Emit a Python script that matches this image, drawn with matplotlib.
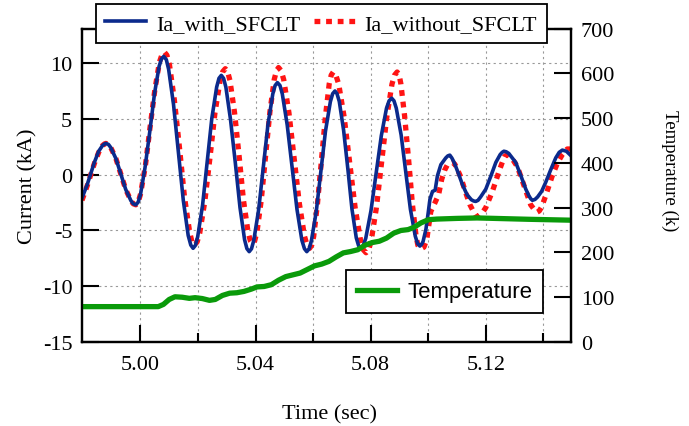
import numpy as np
import matplotlib
matplotlib.use("Agg")
import matplotlib.pyplot as plt
from matplotlib.ticker import MultipleLocator, FixedLocator

plt.rcParams['font.family'] = ['Liberation Serif', 'DejaVu Serif']
plt.rcParams['axes.unicode_minus'] = False

# --- data ---
t_with = [4.9797, 4.9815, 4.9825, 4.9840, 4.9855, 4.9868, 4.9880,
          4.9897, 4.9915, 4.9932, 4.9949, 4.9967, 4.9984,
          5.0000, 5.0016, 5.0033, 5.0049, 5.0065, 5.0081,
          5.0098, 5.0115, 5.0132, 5.0149, 5.0166, 5.0183,
          5.0199, 5.0216, 5.0232, 5.0248, 5.0265, 5.0281,
          5.0297, 5.0313, 5.0330, 5.0346, 5.0362, 5.0378,
          5.0394, 5.0411, 5.0427, 5.0443, 5.0460, 5.0476,
          5.0493, 5.0510, 5.0527, 5.0544, 5.0561, 5.0578,
          5.0594, 5.0611, 5.0627, 5.0643, 5.0660, 5.0676,
          5.0691, 5.0706, 5.0721, 5.0735, 5.0750, 5.0765,
          5.0783, 5.0801, 5.0819, 5.0837, 5.0855, 5.0873,
          5.0889, 5.0906, 5.0922, 5.0938, 5.0955, 5.0971,
          5.0982, 5.0992, 5.1000, 5.1006, 5.1015, 5.1024, 5.1032, 5.1044, 5.1061, 5.1075,
          5.1090, 5.1105, 5.1119, 5.1135, 5.1150, 5.1165,
          5.1182, 5.1200, 5.1218, 5.1235, 5.1250, 5.1263,
          5.1280, 5.1304, 5.1322, 5.1339, 5.1350, 5.1362,
          5.1380, 5.1394, 5.1408, 5.1425, 5.1443, 5.1455, 5.1466, 5.1480, 5.1496]
i_with = [-2.1, -0.9, -0.1, 1.1, 2.1, 2.6, 2.8,
          2.43, 1.43, 0.05, -1.33, -2.33, -2.7,
          -1.81, 0.63, 3.95, 7.28, 9.71, 10.6,
          9.45, 6.3, 2.0, -2.3, -5.45, -6.6,
          -5.56, -2.73, 1.15, 5.03, 7.86, 8.9,
          7.84, 4.95, 1.0, -2.95, -5.84, -6.9,
          -5.88, -3.11, 0.68, 4.46, 7.24, 8.25,
          7.24, 4.46, 0.68, -3.11, -5.88, -6.9,
          -5.94, -3.3, 0.3, 3.9, 6.54, 7.5,
          6.56, 3.98, 0.45, -3.08, -5.66, -6.6,
          -5.7, -3.24, 0.13, 3.49, 5.95, 6.85,
          5.96, 3.54, 0.23, -3.09, -5.51, -6.4,
          -6.0, -4.9, -3.4, -2.2, -1.5, -1.4, -0.1, 0.9, 1.5, 1.75,
          1.1, 0.1, -0.9, -1.8, -2.25, -2.4,
          -2.0, -1.3, -0.1, 1.1, 1.8, 2.1,
          1.9, 1.1, -0.1, -1.3, -1.9, -2.3,
          -2.0, -1.5, -0.7, 0.4, 1.5, 2.0, 2.2, 2.1, 1.7]
# extra readings close to the peaks and troughs
t_with_near = [4.9875, 4.9889, 4.9975, 4.9992, 5.0073, 5.0090, 5.0175, 5.0191,
               5.0273, 5.0289, 5.0370, 5.0386, 5.0468, 5.0485, 5.0570, 5.0586,
               5.0668, 5.0683, 5.0758, 5.0774, 5.0864, 5.0881, 5.0963, 5.0977,
               5.1068, 5.1082, 5.1158, 5.1173, 5.1257, 5.1271, 5.1356, 5.1371]
i_with_near = [2.75, 2.71, -2.61, -2.47, 10.37, 10.31, -6.31, -6.34,
               8.64, 8.63, -6.63, -6.64, 7.99, 7.99, -6.64, -6.66,
               7.26, 7.26, -6.36, -6.37, 6.62, 6.62, -6.17, -6.25,
               1.68, 1.5, -2.36, -2.3, 2.0, 2.05, -2.15, -2.22]

t_without = [4.9797, 4.9815, 4.9825, 4.9840, 4.9855, 4.9868, 4.9880,
             4.9897, 4.9915, 4.9932, 4.9949, 4.9967, 4.9984,
             5.0000, 5.0017, 5.0033, 5.0050, 5.0066, 5.0083,
             5.0101, 5.0118, 5.0136, 5.0153, 5.0171, 5.0188,
             5.0206, 5.0224, 5.0242, 5.0259, 5.0277, 5.0295,
             5.0311, 5.0327, 5.0343, 5.0358, 5.0374, 5.0390,
             5.0405, 5.0420, 5.0435, 5.0450, 5.0465, 5.0480,
             5.0498, 5.0516, 5.0534, 5.0552, 5.0570, 5.0588,
             5.0602, 5.0615, 5.0629, 5.0643, 5.0656, 5.0670,
             5.0689, 5.0708, 5.0727, 5.0746, 5.0765, 5.0784,
             5.0802, 5.0820, 5.0838, 5.0856, 5.0874, 5.0892,
             5.0905, 5.0918, 5.0932, 5.0945, 5.0958, 5.0971,
             5.0985, 5.0995, 5.1009, 5.1022, 5.1036, 5.1047, 5.1057, 5.1067, 5.1084,
             5.1099, 5.1113, 5.1130, 5.1145, 5.1159, 5.1171,
             5.1186, 5.1200, 5.1223, 5.1246, 5.1260, 5.1272,
             5.1290, 5.1310, 5.1333, 5.1356, 5.1379,
             5.1394, 5.1408, 5.1431, 5.1450, 5.1466, 5.1483, 5.1496]
i_without = [-2.3, -1.0, -0.2, 1.0, 2.0, 2.6, 2.8,
             2.43, 1.43, 0.05, -1.33, -2.33, -2.7,
             -1.78, 0.73, 4.15, 7.58, 10.08, 11.0,
             9.84, 6.68, 2.35, -1.98, -5.14, -6.3,
             -5.24, -2.35, 1.6, 5.55, 8.44, 9.5,
             8.45, 5.58, 1.65, -2.28, -5.15, -6.2,
             -5.14, -2.25, 1.7, 5.65, 8.54, 9.6,
             8.51, 5.55, 1.5, -2.55, -5.51, -6.6,
             -5.54, -2.65, 1.3, 5.25, 8.14, 9.2,
             8.11, 5.15, 1.1, -2.95, -5.91, -7.0,
             -5.91, -2.95, 1.1, 5.15, 8.11, 9.2,
             8.14, 5.25, 1.3, -2.65, -5.54, -6.6,
             -6.5, -5.8, -3.3, -2.6, -1.8, -0.4, 0.4, 0.9, 1.1,
             0.6, -0.2, -1.6, -2.7, -3.4, -3.75,
             -3.5, -2.95, -1.5, 0.3, 1.3, 1.75,
             1.5, 0.7, -1.0, -2.7, -3.35,
             -2.9, -1.9, -0.1, 1.1, 1.8, 2.3, 2.3]
t_without_near = [4.9875, 4.9889, 4.9975, 4.9992, 5.0075, 5.0092, 5.0179, 5.0197,
                  5.0286, 5.0303, 5.0382, 5.0397, 5.0473, 5.0489, 5.0579, 5.0595,
                  5.0663, 5.0679, 5.0774, 5.0793, 5.0883, 5.0899, 5.0964, 5.0978,
                  5.1076, 5.1092, 5.1165, 5.1178, 5.1266, 5.1280, 5.1372, 5.1386]
i_without_near = [2.75, 2.71, -2.61, -2.47, 10.77, 10.71, -6.01, -6.03,
                  9.23, 9.23, -5.93, -5.93, 9.33, 9.32, -6.32, -6.33,
                  8.93, 8.92, -6.72, -6.72, 8.92, 8.93, -6.33, -6.6,
                  1.05, 0.95, -3.65, -3.7, 1.65, 1.7, -3.25, -3.25]

t_temp = [4.9797, 5.0062, 5.0080, 5.0100, 5.0120, 5.0145, 5.0170, 5.0190,
          5.0215, 5.0240, 5.0260, 5.0285, 5.0310, 5.0335, 5.0360, 5.0385,
          5.0405, 5.0430, 5.0455, 5.0480, 5.0505, 5.0530, 5.0555, 5.0580,
          5.0605, 5.0630, 5.0655, 5.0680, 5.0705, 5.0730, 5.0755, 5.0780,
          5.0805, 5.0830, 5.0855, 5.0880, 5.0905, 5.0930, 5.0950, 5.0975,
          5.1000, 5.1030, 5.1100, 5.1170, 5.1260, 5.1350, 5.1496]
temp = [79, 79, 84, 95, 101, 100, 97.5, 99,
        97, 93, 95, 104, 109, 110, 113, 118,
        123, 124, 128, 138, 146, 150, 154, 162,
        170, 174, 180, 190, 199, 202, 206, 216,
        222, 225, 232, 243, 249, 251, 256, 266,
        273, 274.5, 276, 277, 275.5, 274, 272]

x_major = [5.00, 5.04, 5.08, 5.12]
x_minor = [5.02, 5.06, 5.10, 5.14]


def merged(t_a, v_a, t_b, v_b):
    t = np.array(t_a + t_b)
    v = np.array(v_a + v_b)
    order = np.argsort(t, kind='stable')
    return t[order], v[order]


tw, iw = merged(t_with, i_with, t_with_near, i_with_near)
two, iwo = merged(t_without, i_without, t_without_near, i_without_near)

fig = plt.figure(figsize=(6.89, 4.27), dpi=100)
ax = fig.add_axes([0.1190, 0.1967, 0.7097, 0.7342])
ax2 = ax.twinx()

l1, = ax.plot(tw, iw, color='#0b2a8c', lw=2.6, label='Ia_with_SFCLT',
              solid_joinstyle='round', zorder=3)
l2, = ax.plot(two, iwo, color='#ff1414', lw=3.8, linestyle=(0, (1.1, 1.1)),
              label='Ia_without_SFCLT', zorder=2)
l3, = ax2.plot(t_temp, temp, color='#0a9a0a', lw=3.8, label='Temperature',
               solid_joinstyle='round')

ax.set_xlim(4.9797, 5.1496)
ax.set_ylim(-15, 13.1)
ax2.set_ylim(0, 700)

ax.xaxis.set_major_locator(FixedLocator(x_major))
ax.xaxis.set_minor_locator(FixedLocator(x_minor))
ax.set_xticklabels(['%.2f' % v for v in x_major])
ax.yaxis.set_major_locator(MultipleLocator(5))
ax2.yaxis.set_major_locator(MultipleLocator(100))

ax.grid(True, which='both', axis='x', color='#999999', lw=0.8, linestyle=(0, (2, 3)))
ax.grid(True, which='major', axis='y', color='#999999', lw=0.8, linestyle=(0, (2, 3)))

for a in (ax, ax2):
    for s in a.spines.values():
        s.set_linewidth(1.6)
ax.tick_params(axis='both', which='major', direction='in', length=12, width=1.5,
               labelsize=16, pad=7)
ax.tick_params(axis='x', which='major', pad=9)
ax.tick_params(axis='x', which='minor', direction='in', length=6.5, width=1.5)
ax.tick_params(axis='y', which='minor', length=0)
ax.tick_params(top=False, right=False)
ax2.tick_params(axis='y', direction='in', length=12, width=1.5, labelsize=16, pad=7)

ax.set_xlabel('Time (sec)', fontsize=16)
ax.xaxis.set_label_coords(0.507, -0.20)
ax.set_ylabel('Current (kA)', fontsize=16)
ax.yaxis.set_label_coords(-0.092, 0.5)
ax2.set_ylabel('Temperature (k)', fontsize=13.5, rotation=270)
ax2.yaxis.set_label_coords(1.219, 0.549)

leg1 = ax2.legend(handles=[l1, l2], loc='center', bbox_to_anchor=(0.489, 1.015),
                  ncol=2, fontsize=16, handlelength=1.85, handletextpad=0.45,
                  columnspacing=0.6, borderpad=0.42, borderaxespad=0,
                  fancybox=False, framealpha=1, edgecolor='black')
leg1.get_frame().set_linewidth(1.3)
ax2.add_artist(leg1)
leg2 = ax2.legend(handles=[l3], loc='center', bbox_to_anchor=(0.742, 0.160),
                  handlelength=1.8, handletextpad=0.45,
                  borderpad=0.5, borderaxespad=0, fancybox=False, framealpha=1,
                  edgecolor='black', prop={'family': 'Liberation Sans', 'size': 16})
leg2.get_frame().set_linewidth(1.3)

fig.savefig('out.png', dpi=100)
